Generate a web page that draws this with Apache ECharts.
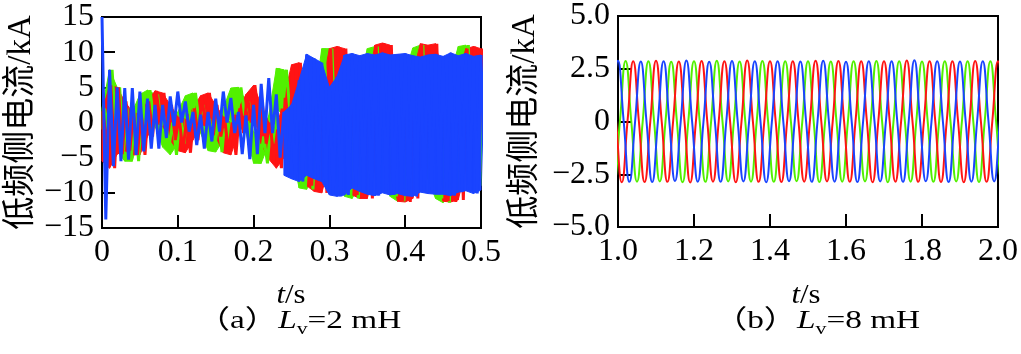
<!DOCTYPE html>
<html>
<head>
<meta charset="utf-8">
<script src="https://cdn.jsdelivr.net/npm/echarts@6/dist/echarts.min.js"></script>
<style>
    html, body { margin: 0; padding: 0; background: #fff; }
    #chart { width: 1021px; height: 354px; }
</style>
</head>
<body>
<div id="chart"></div>
<script>
// (a) Lv=2 mH : envelope (peak / trough) of each phase read every 0.01 s
var timesA = [0, 0.01, 0.02, 0.03, 0.04, 0.05, 0.06, 0.07, 0.08, 0.09,
    0.10, 0.11, 0.12, 0.13, 0.14, 0.15, 0.16, 0.17, 0.18, 0.19,
    0.20, 0.21, 0.22, 0.23, 0.24, 0.25, 0.26, 0.27, 0.28, 0.29,
    0.30, 0.31, 0.32, 0.33, 0.34, 0.35, 0.36, 0.37, 0.38, 0.39,
    0.40, 0.41, 0.42, 0.43, 0.44, 0.45, 0.46, 0.47, 0.48, 0.49, 0.50];

var redHi = [1.5, 5.3, 5, 3, 1.5, 1.1, 3, 4.5, 4.2, 2.5, 0.8, 0.5, 2, 3.8, 4.2, 2.5, 0.8, 0, 2, 4,
    5.3, 2.5, 0, -1, 3.5, 8.2, 8.5, 5, 4, 5, 10.5, 10.8, 10.5, 6, 6, 5, 11, 11.3, 11, 6,
    6.5, 7, 11.2, 11, 11.2, 6.5, 6.5, 7, 10.5, 10.8, 10.5];
var redLo = [-5.5, -6.5, -4.5, -4, -4.6, -4.6, -2, 0, -0.5, -2.5, -4, -4.3, -2.5, -0.5, -0.2, -2, -4.3, -4.6, -1.5, 0,
    1, -3, -5.2, -6.5, -5, -4, -5, -9, -9.8, -10, -6, -6.5, -6, -10.3, -10.8, -10.8, -6.5, -6.5, -6.5, -11.2,
    -11.3, -10.8, -6.5, -6.5, -6.5, -11.2, -11.3, -11, -6.5, -6.5, -7];

var greenHi = [2, 7.5, 5, 2, 1.5, 4, 4.6, 4, 1, 0, 1.5, 3.8, 4.2, 2.5, 0.5, 0.5, 2, 4.9, 5, 3,
    -1.5, -2, 1, 7.7, 7.5, 4, 0, 0, 3, 10.5, 10.5, 6, 5, 5, 6, 10.5, 10.8, 9.5, 6, 5.5,
    7, 10.6, 11, 8, 6, 6, 7, 10.8, 11, 9, 7];
var greenLo = [-1, -1, -4, -5.5, -5.5, -1.5, 0.5, -0.5, -3.5, -4.6, -3, -0.5, 0, -1.5, -4, -4.2, -2.5, 1.1, 1, -1.5,
    -5.8, -5.8, -3, 2, 1, -4, -9.3, -9.5, -7, -3, -4, -8, -10.5, -10.8, -9, -6, -6, -7, -10.5, -11.2,
    -9, -6, -6, -8, -10.8, -11.4, -9.5, -6, -6, -8, -9];

var blueHi = [15, 7.5, 5, 4.9, 4.9, 4.4, 3.4, 2.5, 2.5, 3.7, 4.4, 3, 1.5, 1.1, 1.5, 3.4, 4.4, 3.5, 1.5, 1,
    2.5, 5.5, 6.3, 4, 1.5, 2.5, 6, 9.7, 9.1, 8.5, 5, 6.5, 9.6, 9.8, 9.5, 9.8, 9.6, 9.9, 9.6, 9.7,
    9.8, 9.5, 9.3, 9.6, 9.7, 9.4, 9.9, 9.5, 9.8, 9.4, 9.6];
var blueLo = [-13.8, -6.2, -5.5, -5.3, -4.6, -4.1, -3.7, -3.7, -2.2, -0.5, 0, -1.3, -3.2, -3.7, -2.7, -1.3, 0, -1.5, -4.5, -5.2,
    -4.5, -1.5, -1.5, -5, -7.5, -8, -8.4, -7.5, -8, -8.4, -10.3, -10.5, -10.3, -9.3, -9.8, -10.2, -10.4, -10, -10.3, -10.1,
    -10.4, -10.5, -9.9, -10.1, -10.2, -10.2, -10.4, -9.9, -9.7, -10.1, -9.6];

// (b) Lv=8 mH : successive peak / trough values, one every half period (0.03 s)
var bluePeaksB = [2.85, -2.83, 2.88, -2.86, 2.84, -2.87, 2.86, -2.82, 2.89, -2.85, 2.83, -2.86, 2.87, -2.84,
    2.85, -2.88, 2.86, -2.83, 2.84, -2.86, 2.88, -2.85, 2.83, -2.87, 2.86, -2.84, 2.85, -2.86,
    2.9, -2.83, 2.85, -2.87, 2.84, -2.85, 2.86, -2.84, 2.85];
var greenPeaksB = [2.84, -2.86, 2.87, -2.85, 2.86, -2.84, 2.83, -2.88, 2.85, -2.86, 2.88, -2.84, 2.84, -2.85,
    2.87, -2.86, 2.85, -2.83, 2.86, -2.87, 2.84, -2.85, 2.86, -2.84, 2.87, -2.88, 2.85, -2.85,
    2.84, -2.86, 2.86, -2.84, 2.85, -2.87, 2.86, -2.85, 2.84];
var redPeaksB = [2.86, -2.88, 2.85, -2.87, 2.88, -2.86, 2.84, -2.89, 2.87, -2.85, 2.86, -2.88, 2.89, -2.86,
    2.85, -2.87, 2.86, -2.85, 2.88, -2.84, 2.87, -2.86, 2.85, -2.88, 2.86, -2.85, 2.89, -2.86,
    2.85, -2.87, 2.86, -2.88, 2.87, -2.86, 2.85, -2.87, 2.86];
var firstPeakB = { blue: 0.94, green: 0.96, red: 0.98 };
var halfPeriodB = 0.03;

var ticksA = [0, 0.1, 0.2, 0.3, 0.4, 0.5];
var ticksB = [1.0, 1.2, 1.4, 1.6, 1.8, 2.0];

var RED = '#ff1414';
var GREEN = '#52f000';
var BLUE = '#1a44ff';
var SERIF = '"Liberation Serif", "Times New Roman", serif';
var NAME_FONT = '"Liberation Serif", "Noto Sans CJK SC", serif';

function zigzag(times, hi, lo, shift) {
    var pts = [];
    for (var i = 0; i < times.length; i++) {
        pts.push([times[i] + shift, hi[i]]);
        pts.push([times[i] + shift + 0.005, lo[i]]);
    }
    return pts;
}

function wave(t0, peaks) {
    var pts = [];
    for (var i = 0; i < peaks.length; i++) {
        var t = t0 + i * halfPeriodB;
        pts.push([t, peaks[i]]);
        pts.push([t + halfPeriodB / 2, 0]);
    }
    return pts;
}

function minus(v) {
    return String(v).replace('-', '\u2212');
}

function axisX(idx, min, max, interval, fmt) {
    return {
        type: 'value', gridIndex: idx, min: min, max: max, interval: interval,
        axisLine: { show: true, onZero: false, lineStyle: { color: '#000', width: 2 } },
        axisTick: { show: true, inside: true, length: 13, lineStyle: { color: '#000', width: 2 } },
        axisLabel: { color: '#000', fontFamily: SERIF, fontSize: 32, margin: 9, formatter: fmt },
        splitLine: { show: false }
    };
}

function axisY(idx, min, max, interval, fmt, gap) {
    return {
        type: 'value', gridIndex: idx, min: min, max: max, interval: interval,
        name: '低频侧电流/kA', nameLocation: 'middle', nameGap: gap,
        nameTextStyle: { color: '#000', fontFamily: NAME_FONT, fontSize: 33 },
        axisLine: { show: true, onZero: false, lineStyle: { color: '#000', width: 2 } },
        axisTick: { show: true, inside: true, length: 13, lineStyle: { color: '#000', width: 2 } },
        axisLabel: { color: '#000', fontFamily: SERIF, fontSize: 32, margin: 8, formatter: fmt },
        splitLine: { show: false }
    };
}

function lineSeries(xi, data, color, width, smooth, z) {
    return {
        type: 'line', xAxisIndex: xi, yAxisIndex: xi, data: data, z: z,
        showSymbol: false, smooth: smooth, sampling: null, animation: false,
        lineStyle: { color: color, width: width, join: 'bevel' }, itemStyle: { color: color }
    };
}

// filled band between the trough and peak envelopes of one phase,
// starting at sample `from` (before it the line alone is drawn)
function bandSeries(hi, lo, color, from, z) {
    var rows = [];
    for (var i = 0; i < timesA.length; i++) {
        rows.push([timesA[i], lo[i], hi[i]]);
    }
    return {
        type: 'custom', xAxisIndex: 0, yAxisIndex: 0, data: rows, z: z,
        encode: { x: 0, y: [1, 2] }, animation: false, silent: true,
        renderItem: function (params, api) {
            var k = params.dataIndex;
            if (k < from || k >= rows.length - 1) {
                return null;
            }
            var a = rows[k], b = rows[k + 1];
            return {
                type: 'polygon',
                shape: { points: [api.coord([a[0], a[1]]), api.coord([a[0], a[2]]), api.coord([b[0], b[2]]), api.coord([b[0], b[1]])] },
                style: { fill: color, stroke: color, lineWidth: 1 }
            };
        }
    };
}

function caption(x, y, text, size, sx) {
    return {
        type: 'text', x: x, y: y, scaleX: sx,
        style: {
            text: text, fill: '#000', font: size + 'px ' + NAME_FONT,
            align: 'center', verticalAlign: 'middle',
            rich: {
                i: { fontStyle: 'italic', fontFamily: SERIF, fontSize: size },
                sub: { fontFamily: SERIF, fontSize: 17, verticalAlign: 'bottom', lineHeight: 34 },
                n: { fontFamily: SERIF, fontSize: size }
            }
        }
    };
}

function currentChartInit() {
    var chartDom = document.getElementById('chart');
    var myChart = echarts.init(chartDom, null, { renderer: 'canvas' });

    var fmtA = function (v) { return v === 0 ? '0' : v.toFixed(1); };
    var fmtB = function (v) { return v.toFixed(1); };
    var fmtYA = function (v) { return minus(v); };
    var fmtYB = function (v) { return v === 0 ? '0' : minus(v.toFixed(1)); };

    // blue is the top layer; its solid band only where the trace is dense (t >= 0.24 s)
    var series = [
        bandSeries(greenHi, greenLo, GREEN, 0, 2),
        bandSeries(redHi, redLo, RED, 0, 3),
        lineSeries(0, zigzag(timesA, greenHi, greenLo, 0.0033), GREEN, 3, false, 4),
        lineSeries(0, zigzag(timesA, redHi, redLo, 0.0017), RED, 3, false, 5),
        bandSeries(blueHi, blueLo, BLUE, 24, 6),
        lineSeries(0, zigzag(timesA, blueHi, blueLo, 0), BLUE, 3, false, 7),
        lineSeries(1, wave(firstPeakB.green, greenPeaksB), GREEN, 2, 0.5, 4),
        lineSeries(1, wave(firstPeakB.red, redPeaksB), RED, 2, 0.5, 5),
        lineSeries(1, wave(firstPeakB.blue, bluePeaksB), BLUE, 2, 0.5, 7)
    ];

    var option = {
        backgroundColor: '#fff',
        animation: false,
        grid: [
            { left: 102, top: 17, width: 379, height: 211, show: true, borderColor: '#000', borderWidth: 2 },
            { left: 618, top: 16, width: 380, height: 211, show: true, borderColor: '#000', borderWidth: 2 }
        ],
        xAxis: [
            axisX(0, ticksA[0], ticksA[ticksA.length - 1], 0.1, fmtA),
            axisX(1, ticksB[0], ticksB[ticksB.length - 1], 0.2, fmtB)
        ],
        yAxis: [
            axisY(0, -15, 15, 5, fmtYA, 64),
            axisY(1, -5, 5, 2.5, fmtYB, 76)
        ],
        series: series,
        graphic: [
            caption(291, 296, '{i|t}{n|/s}', 28, 1.1),
            caption(299, 321, '（a）{i|L}{sub|v}{n|=2 mH}', 26, 1.28),
            caption(806, 296, '{i|t}{n|/s}', 28, 1.1),
            caption(817, 321, '（b）{i|L}{sub|v}{n|=8 mH}', 26, 1.28)
        ]
    };

    option && myChart.setOption(option);
}

currentChartInit();
</script>
</body>
</html>
